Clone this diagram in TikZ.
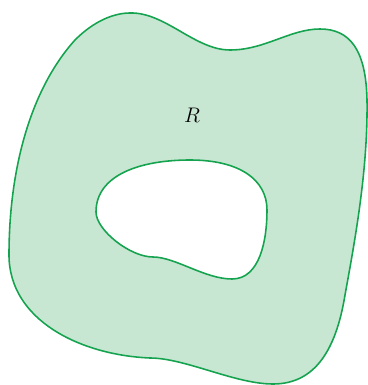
\documentclass[tikz,border=0pt]{standalone}
\definecolor{edgegreen}{RGB}{22,163,80}
\definecolor{fillgreen}{RGB}{200,231,210}
\begin{document}
\begin{tikzpicture}[x=0.02cm,y=-0.02cm,
  region/.style={fill=fillgreen,draw=edgegreen,line width=0.9pt,even odd rule}]
\useasboundingbox (0,0) rectangle (368,385);
\path[region]
  (130,13) .. controls (165,12) and (195,50) .. (230,50)
  .. controls (265,50) and (290,29) .. (320,29)
  .. controls (350,29) and (366,50) .. (367,100)
  .. controls (368,170) and (355,240) .. (345,295)
  .. controls (336,350) and (315,384) .. (273,384)
  .. controls (235,384) and (185,358) .. (150,358)
  .. controls (80,355) and (9,320) .. (9,255)
  .. controls (9,170) and (30,90) .. (75,40)
  .. controls (95,20) and (115,13) .. (130,13) -- cycle
  (96,212) .. controls (96,175) and (140,160) .. (190,160)
  .. controls (240,160) and (267,180) .. (267,210)
  .. controls (267,240) and (260,279) .. (232,279)
  .. controls (205,279) and (175,257) .. (153,257)
  .. controls (130,257) and (96,230) .. (96,212) -- cycle;
\node (R) at (192,115) {\fontsize{13}{15}\selectfont $R$};
\end{tikzpicture}
\end{document}
